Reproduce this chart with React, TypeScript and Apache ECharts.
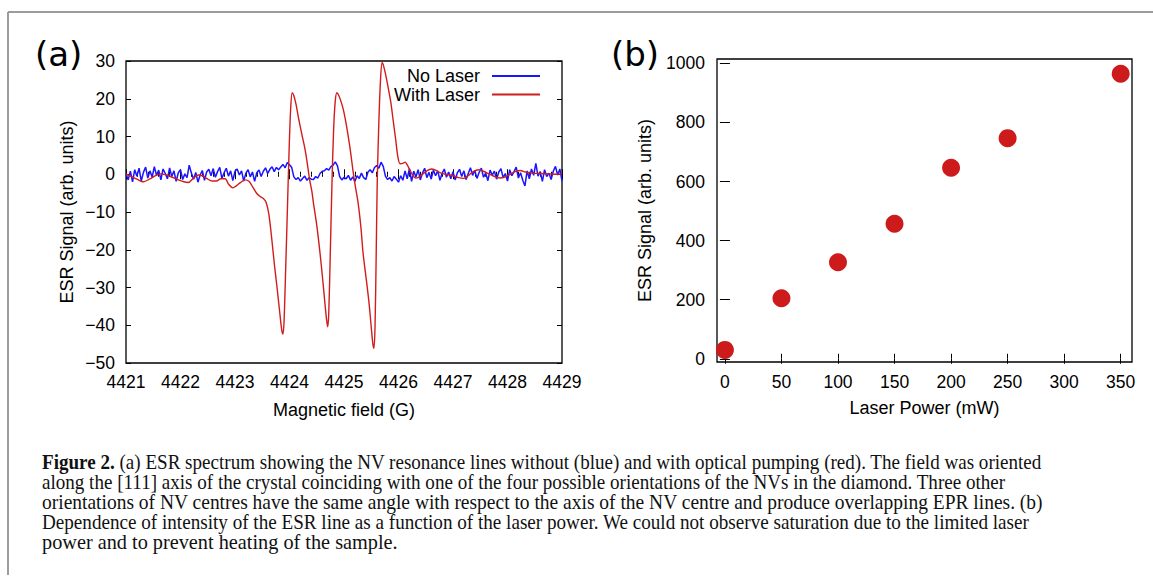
import React, { useEffect, useRef } from "react";
import * as echarts from "echarts";

// ---------- data ----------
const FIELD_START = 4421;
const FIELD_STEP = 0.04;
// "No Laser" ESR signal sampled every 0.04 G from 4421 G
const noLaserSignal = [
  0.2, -1.5, 0.8, -2.0, 1.2, -0.5, 1.6, -1.8, 0.5, 1.9, -1.0,
  0.9, -0.8, 2.0, -0.3, 1.1, -1.5, 1.4, 0.2, -1.2, 1.7,
  -0.6, 0.9, -1.9, 0.4, 1.2, -1.4, 0.1, -0.9, 2.4, 0.3,
  -1.3, 0.5, -2.1, -0.2, 1.0, -1.6, 0.6, 1.3, -0.4, 1.5,
  -0.8, 0.7, 1.8, -1.1, 0.4, 1.6, -0.5, 0.9, -1.7, 0.8,
  1.4, -0.2, 0.9, -1.8, 0.3, 1.2, -0.7, 0.6, -1.9, 0.4,
  1.1, -0.6, 0.8, 1.7, 0.2, 1.3, 2.0, 0.7, 1.8, 1.2,
  1.9, 2.6, 1.7, 3.1, 2.5, 1.8, -0.7, -1.4, -0.9, -1.8,
  -1.1, -0.5, -1.6, -0.9, -1.3, -1.4, -0.6, -1.0, 0.2, 0.8,
  0.9, 1.5, 1.1, 2.0, 2.4, 3.3, 2.2, -0.6, -1.5, -0.8,
  -1.2, -0.3, -1.6, -0.7, -1.9, -0.4, -1.1, 0.3, -0.9, -1.4,
  0.6, 1.2, 0.4, 1.8, 2.3, 1.6, 3.2, 2.1, -0.5, -1.4,
  -0.9, -1.8, -0.6, -1.3, -2.1, -0.4, -1.6, 0.9, -1.2, 1.5,
  -1.9, 0.8, -0.7, 1.2, -1.5, 0.3, 1.6, -0.9, 0.5, -1.3,
  1.1, -0.4, 0.9, -1.6, 0.2, 1.4, -0.8, 0.6, -1.2, 0.7,
  -1.5, 0.4, 1.3, -0.6, 0.9, -1.4, 0.2, 1.7, -0.3, 1.0,
  -1.1, 0.5, 1.6, -0.8, 0.3, -1.7, 1.1, -0.2, 0.8, -1.3,
  0.6, 1.5, -0.9, 0.2, -1.8, 1.2, -0.4, 0.7, 1.9, -1.0,
  0.4, -1.6, -3.1, 0.9, -1.2, 1.4, -0.3, 2.9, -0.5, 0.7,
  -1.9, 1.2, -0.6, 0.3, -1.4, 0.8, 2.1, -0.2, 1.4, -1.8,
];

// "With Laser" ESR signal
const withLaserField = [
  4421.0, 4421.1, 4421.2, 4421.32, 4421.44, 4421.55, 4421.64, 4421.72, 4421.82, 4421.96,
  4422.06, 4422.14, 4422.24, 4422.33, 4422.4, 4422.48, 4422.58, 4422.66, 4422.74, 4422.82,
  4422.88, 4422.96, 4423.03, 4423.1, 4423.18, 4423.26, 4423.33, 4423.4, 4423.46, 4423.52,
  4423.57, 4423.62, 4423.67, 4423.72, 4423.77, 4423.82, 4423.86, 4423.88, 4423.9, 4423.93,
  4423.96, 4423.99, 4424.02, 4424.05, 4424.08, 4424.12, 4424.16, 4424.22, 4424.28, 4424.32,
  4424.37, 4424.41, 4424.44, 4424.5, 4424.56, 4424.61, 4424.65, 4424.68, 4424.7, 4424.72,
  4424.75, 4424.78, 4424.81, 4424.84, 4424.87, 4424.9, 4424.94, 4424.99, 4425.05, 4425.11,
  4425.16, 4425.2, 4425.26, 4425.31, 4425.35, 4425.41, 4425.46, 4425.5, 4425.53, 4425.55,
  4425.57, 4425.59, 4425.61, 4425.64, 4425.67, 4425.7, 4425.73, 4425.77, 4425.81, 4425.86,
  4425.9, 4425.95, 4425.99, 4426.03, 4426.08, 4426.12, 4426.16, 4426.21, 4426.26, 4426.31,
  4426.36, 4426.44, 4426.52, 4426.6, 4426.68, 4426.78, 4426.9, 4427.0, 4427.1, 4427.19,
  4427.28, 4427.37, 4427.47, 4427.56, 4427.66, 4427.76, 4427.86, 4427.96, 4428.06, 4428.14,
  4428.23, 4428.33, 4428.45, 4428.6, 4428.75, 4428.9, 4429.0,
];
const withLaserSignal = [
  0.0, -0.6, -1.3, -2.0, -1.2, -0.3, 0.1, -0.1, -0.6, -1.5,
  -2.0, -2.2, -1.0, -0.2, -0.4, -1.1, -1.8, -1.8, -1.2, -1.2,
  -2.6, -3.6, -3.0, -2.2, -1.5, -1.9, -3.5, -5.1, -5.9, -6.4,
  -7.4, -10.5, -16.5, -23.5, -29.8, -36.5, -41.5, -42.3, -39.0, -25.0,
  -10.0, 5.0, 17.0, 21.6, 20.8, 18.5, 15.3, 11.0, 7.0, 3.5,
  -1.5, -4.5, -7.7, -13.5, -20.9, -28.0, -34.2, -38.5, -40.4, -37.0,
  -20.0, -2.0, 12.0, 19.5, 21.6, 21.0, 19.5, 17.0, 12.5, 7.0,
  1.5, -2.5, -7.7, -14.0, -20.9, -28.0, -34.2, -40.5, -45.0, -46.1,
  -40.0, -22.0, -2.0, 14.0, 25.0, 29.6, 28.5, 26.0, 23.0, 19.0,
  14.5, 9.0, 4.5, 2.8, 2.9, 3.2, 2.5, 1.1, -0.2, -1.0,
  -0.9, 0.0, 0.9, 1.4, 1.1, 0.3, -0.1, -0.4, -0.9, -1.1,
  -0.4, 0.7, 1.2, 0.8, 0.1, -0.6, -1.0, -0.7, 0.1, 0.7,
  1.0, 0.6, 0.3, 0.2, 0.1, 0.0, 0.1,
];

// (b) intensity vs laser power
const laserPower = [0, 50, 100, 150, 200, 250, 350];
const esrIntensity = [30, 205, 327, 457, 647, 747, 965];

const powerTicks = [0, 50, 100, 150, 200, 250, 300, 350];
const intensityTicks = [0, 200, 400, 600, 800, 1000];

const legendNames = ["No Laser", "With Laser"];

const captionBold = "Figure 2.";
const captionLines = [
  " (a) ESR spectrum showing the NV resonance lines without (blue) and with optical pumping (red). The field was oriented",
  "along the [111] axis of the crystal coinciding with one of the four possible orientations of the NVs in the diamond. Three other",
  "orientations of NV centres have the same angle with respect to the axis of the NV centre and produce overlapping EPR lines. (b)",
  "Dependence of intensity of the ESR line as a function of the laser power. We could not observe saturation due to the limited laser",
  "power and to prevent heating of the sample.",
];

// ---------- layout ----------
const SANS = '"Liberation Sans", Arial, Helvetica, sans-serif';
const SERIF = '"Liberation Serif", "Times New Roman", serif';
const CAP_SIZE = 21;
const CAP_X = 42;
const CAP_END = [1043, 1006, 1044, 1030, 398];
const CAP_Y = [462, 482, 502, 522, 542];

const minus = (v: number) => String(v).replace("-", "\u2212");

function measure(text: string, font: string): number {
  const c = document.createElement("canvas").getContext("2d");
  if (!c) return text.length * 8;
  c.font = font;
  return c.measureText(text).width;
}

export default function App() {
  const ref = useRef<HTMLDivElement>(null);

  useEffect(() => {
    if (!ref.current) return;
    const chart = echarts.init(ref.current, undefined, { renderer: "svg" });

    const noLaserData = noLaserSignal.map((v, i) => [
      +(FIELD_START + i * FIELD_STEP).toFixed(2),
      v,
    ]);
    const withLaserData = withLaserField.map((f, i) => [f, withLaserSignal[i]]);
    const powerData = laserPower.map((p, i) => [p, esrIntensity[i]]);

    const tickLabel = { fontFamily: SANS, fontSize: 17.5, color: "#000" };
    const nameStyle = { fontFamily: SANS, fontSize: 18, color: "#000" };
    const tickLine = { color: "#000", width: 1 };

    const normalFont = `${CAP_SIZE}px ${SERIF}`;
    const boldFont = `bold ${CAP_SIZE}px ${SERIF}`;
    const captionGraphics = captionLines.map((line, i) => {
      let w = measure(line, normalFont);
      let text = line;
      if (i === 0) {
        w += measure(captionBold, boldFont);
        text = `{b|${captionBold}}${line}`;
      }
      const s = (CAP_END[i] - CAP_X) / w;
      return {
        type: "text",
        x: CAP_X,
        y: CAP_Y[i],
        scaleX: s,
        style: {
          text,
          fontFamily: SERIF,
          fontSize: CAP_SIZE,
          fill: "#111",
          verticalAlign: "middle",
          rich: {
            b: { fontFamily: SERIF, fontSize: CAP_SIZE, fontWeight: "bold", fill: "#111" },
          },
        },
      };
    });

    const mirrorX = (gridIndex: number, min: number, max: number, extra: any) => ({
      gridIndex,
      type: "value",
      position: "top",
      min,
      max,
      axisLine: { show: false },
      axisLabel: { show: false },
      splitLine: { show: false },
      ...extra,
    });

    const option: any = {
      animation: false,
      backgroundColor: "#ffffff",
      grid: [
        { left: 126, top: 61, width: 436, height: 302, show: true, borderColor: "#000", borderWidth: 1.3 },
        { left: 717, top: 59, width: 415, height: 303, show: true, borderColor: "#000", borderWidth: 1.3 },
      ],
      legend: legendNames.map((n, i) => ({
        data: [n],
        orient: "vertical",
        align: "right",
        right: 612,
        top: 67 + i * 18.5,
        padding: 0,
        itemWidth: 48,
        itemHeight: 14,
        selectedMode: false,
        itemStyle: { opacity: 0 },
        textStyle: { ...nameStyle, padding: [0, 7, 0, 0] },
      })),
      xAxis: [
        {
          gridIndex: 0,
          type: "value",
          min: 4421,
          max: 4429,
          interval: 1,
          name: "Magnetic field (G)",
          nameLocation: "middle",
          nameGap: 38,
          nameTextStyle: nameStyle,
          axisLine: { show: false },
          axisTick: { show: true, inside: true, length: 5, lineStyle: tickLine },
          minorTick: { show: true, splitNumber: 5, length: 2.5, lineStyle: tickLine },
          axisLabel: { ...tickLabel, margin: 10, formatter: (v: number) => String(v) },
          splitLine: { show: false },
        },
        mirrorX(0, 4421, 4429, {
          interval: 1,
          axisTick: { show: true, inside: true, length: 5, lineStyle: tickLine },
          minorTick: { show: true, splitNumber: 5, length: 2.5, lineStyle: tickLine },
        }),
        {
          gridIndex: 1,
          type: "value",
          min: -7,
          max: 360,
          name: "Laser Power (mW)",
          nameLocation: "middle",
          nameGap: 37,
          nameTextStyle: nameStyle,
          axisLine: { show: false },
          axisTick: { show: true, inside: true, length: 5, lineStyle: tickLine, customValues: powerTicks },
          axisLabel: { ...tickLabel, margin: 11, customValues: powerTicks, formatter: (v: number) => String(v) },
          splitLine: { show: false },
        },
        mirrorX(1, -7, 360, {
          axisTick: { show: true, inside: true, length: 5, lineStyle: tickLine, customValues: powerTicks },
          axisLabel: { show: false, customValues: powerTicks },
        }),
      ],
      yAxis: [
        {
          gridIndex: 0,
          type: "value",
          min: -50,
          max: 30,
          interval: 10,
          name: "ESR Signal (arb. units)",
          nameLocation: "middle",
          nameGap: 50,
          nameTextStyle: nameStyle,
          axisLine: { show: false },
          axisTick: { show: true, inside: true, length: 5, lineStyle: tickLine },
          axisLabel: { ...tickLabel, margin: 11, formatter: minus },
          splitLine: { show: false },
        },
        {
          gridIndex: 0,
          type: "value",
          position: "right",
          min: -50,
          max: 30,
          interval: 10,
          axisLine: { show: false },
          axisTick: { show: true, inside: true, length: 5, lineStyle: tickLine },
          axisLabel: { show: false },
          splitLine: { show: false },
        },
        {
          gridIndex: 1,
          type: "value",
          min: -11,
          max: 1015,
          name: "ESR Signal (arb. units)",
          nameLocation: "middle",
          nameGap: 63,
          nameTextStyle: nameStyle,
          axisLine: { show: false },
          axisTick: { show: true, inside: true, length: 5, lineStyle: tickLine, customValues: intensityTicks },
          axisLabel: { ...tickLabel, margin: 12, customValues: intensityTicks, formatter: (v: number) => String(v) },
          splitLine: { show: false },
        },
        {
          gridIndex: 1,
          type: "value",
          position: "right",
          min: -11,
          max: 1015,
          axisLine: { show: false },
          axisTick: { show: true, inside: true, length: 5, lineStyle: tickLine, customValues: intensityTicks },
          axisLabel: { show: false, customValues: intensityTicks },
          splitLine: { show: false },
        },
      ],
      series: [
        {
          name: legendNames[0],
          type: "line",
          xAxisIndex: 0,
          yAxisIndex: 0,
          data: noLaserData,
          symbol: "none",
          lineStyle: { color: "#1a14ff", width: 1.5 },
          itemStyle: { color: "#1a14ff" },
        },
        {
          name: legendNames[1],
          type: "line",
          xAxisIndex: 0,
          yAxisIndex: 0,
          data: withLaserData,
          smooth: 0.3,
          symbol: "none",
          lineStyle: { color: "#d21c1c", width: 1.4 },
          itemStyle: { color: "#d21c1c" },
        },
        {
          name: "ESR intensity",
          type: "scatter",
          xAxisIndex: 2,
          yAxisIndex: 2,
          data: powerData,
          symbolSize: 18,
          itemStyle: { color: "#cd1b1b", opacity: 1 },
        },
      ],
      graphic: [
        { type: "line", shape: { x1: 8, y1: 12, x2: 1153, y2: 12 }, style: { stroke: "#9c9c9c", lineWidth: 2 } },
        { type: "line", shape: { x1: 8, y1: 12, x2: 8, y2: 575 }, style: { stroke: "#9c9c9c", lineWidth: 2 } },
        {
          type: "text",
          x: 35,
          y: 54,
          style: { text: "(a)", fontFamily: '"DejaVu Sans", sans-serif', fontSize: 34, fill: "#000", verticalAlign: "middle" },
        },
        {
          type: "text",
          x: 611,
          y: 54,
          style: { text: "(b)", fontFamily: '"DejaVu Sans", sans-serif', fontSize: 34, fill: "#000", verticalAlign: "middle" },
        },
        ...captionGraphics,
      ],
    };

    chart.setOption(option);
    return () => chart.dispose();
  }, []);

  return (
    <div
      ref={ref}
      style={{ position: "fixed", left: 0, top: 0, width: 1153, height: 580, background: "#fff" }}
    />
  );
}
